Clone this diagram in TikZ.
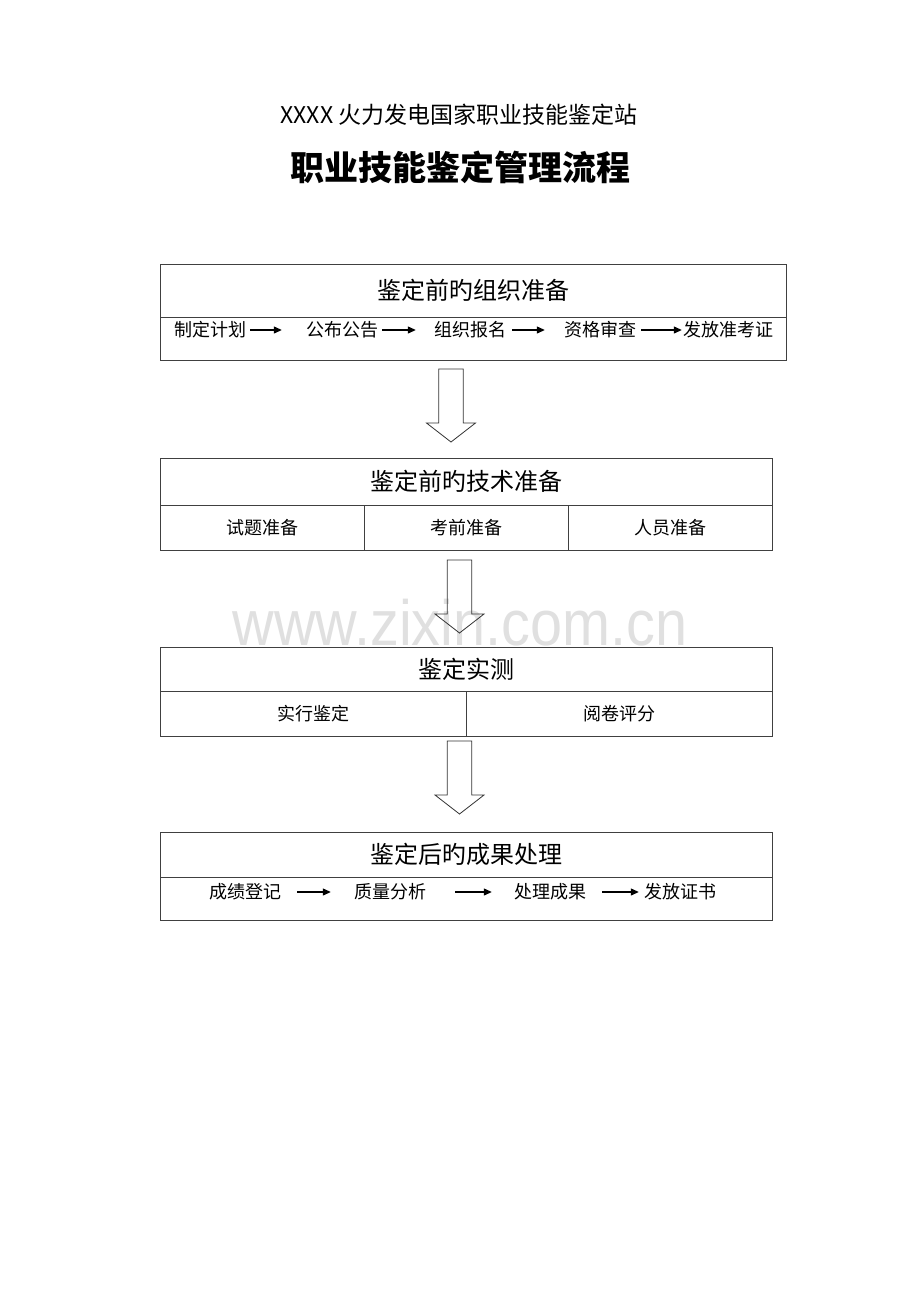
\documentclass[tikz,border=0pt]{standalone}
\usepackage{fontspec}
\setmainfont{Noto Sans CJK SC}
\newfontfamily\wmfont{Liberation Sans}
\usetikzlibrary{positioning,arrows.meta}

\begin{document}
\begin{tikzpicture}[x=1pt, y=-1pt,
    frame/.style={rectangle, draw=black!75, line width=0.8pt, inner sep=0pt, outer sep=0pt},
    head/.style={frame, font=\fontsize{24}{28}\selectfont},
    cell/.style={frame, font=\fontsize{18}{22}\selectfont},
    item/.style={inner sep=0pt, font=\fontsize{18}{22}\selectfont},
    flow/.style={-{Triangle[length=8pt,width=7pt]}, line width=1.2pt},
    hollow/.style={draw=black!80, line width=0.8pt, line join=miter}]
    \path[fill=white] (0,0) rectangle (920,1302);
    \useasboundingbox (0,0) rectangle (920,1302);

    % watermark
    \node[anchor=base, inner sep=0pt, text=black!12, font=\wmfont\fontsize{64}{70}\selectfont, xscale=0.9] (mark) at (460,645) {www.zixin.com.cn};

    % headings
    \node[font=\fontsize{23}{27}\selectfont] (station) at (459,115) {XXXX\ 火力发电国家职业技能鉴定站};
    \node[font=\bfseries\fontsize{34}{40}\selectfont] (maintitle) at (460,167) {职业技能鉴定管理流程};

    % organisation before the test
    \node[head, minimum width=626pt, minimum height=53pt] (org) at (473,290.5) {鉴定前旳组织准备};
    \node[frame, minimum width=626pt, minimum height=43pt, below=0pt of org] (orgrow) {};
    \node[item] (plan) at (210,330) {制定计划};
    \node[item] (notice) at (342,330) {公布公告};
    \node[item] (enrol) at (470,330) {组织报名};
    \node[item] (review) at (600,330) {资格审查};
    \node[item] (ticket) at (728,330) {发放准考证};
    \foreach \a/\b/\s/\t in {plan/notice/4/24, notice/enrol/4/18, enrol/review/6/19, review/ticket/5/1}
        \draw[flow] ([xshift=\s pt]\a.east) -- ([xshift=-\t pt]\b.west);

    % technical preparation
    \node[head, minimum width=612pt, minimum height=47pt] (tech) at (466,481.5) {鉴定前旳技术准备};
    \node[cell, minimum width=204pt, minimum height=45pt, anchor=north west] (paper) at (tech.south west) {试题准备};
    \node[cell, minimum width=204pt, minimum height=45pt, right=0pt of paper] (site) {考前准备};
    \node[cell, minimum width=204pt, minimum height=45pt, right=0pt of site] (staff) {人员准备};

    % the test itself
    \node[head, minimum width=612pt, minimum height=44pt] (test) at (466,669) {鉴定实测};
    \node[cell, minimum width=306pt, minimum height=45pt, anchor=north west] (exam) at (test.south west) {实行鉴定};
    \node[cell, minimum width=306pt, minimum height=45pt, right=0pt of exam] (marking) {阅卷评分};

    % results after the test
    \node[head, minimum width=612pt, minimum height=45pt] (after) at (466,854.5) {鉴定后旳成果处理};
    \node[frame, minimum width=612pt, minimum height=43pt, below=0pt of after] (afterrow) {};
    \node[item] (grade) at (245,892) {成绩登记};
    \node[item] (analysis) at (390,892) {质量分析};
    \node[item] (result) at (550,892) {处理成果};
    \node[item] (cert) at (680,892) {发放证书};
    \foreach \a/\b/\s/\t in {grade/analysis/16/23, analysis/result/29/22, result/cert/16/5}
        \draw[flow] ([xshift=\s pt]\a.east) -- ([xshift=-\t pt]\b.west);

    % hollow arrows between the stages
    \foreach \x/\y in {451/369, 459.5/560, 459.5/741}
        \draw[hollow] (\x-12.3,\y) -- (\x-12.3,\y+54) -- (\x-24.5,\y+54) -- (\x,\y+73)
            -- (\x+24.5,\y+54) -- (\x+12.3,\y+54) -- (\x+12.3,\y) -- cycle;
\end{tikzpicture}
\end{document}
